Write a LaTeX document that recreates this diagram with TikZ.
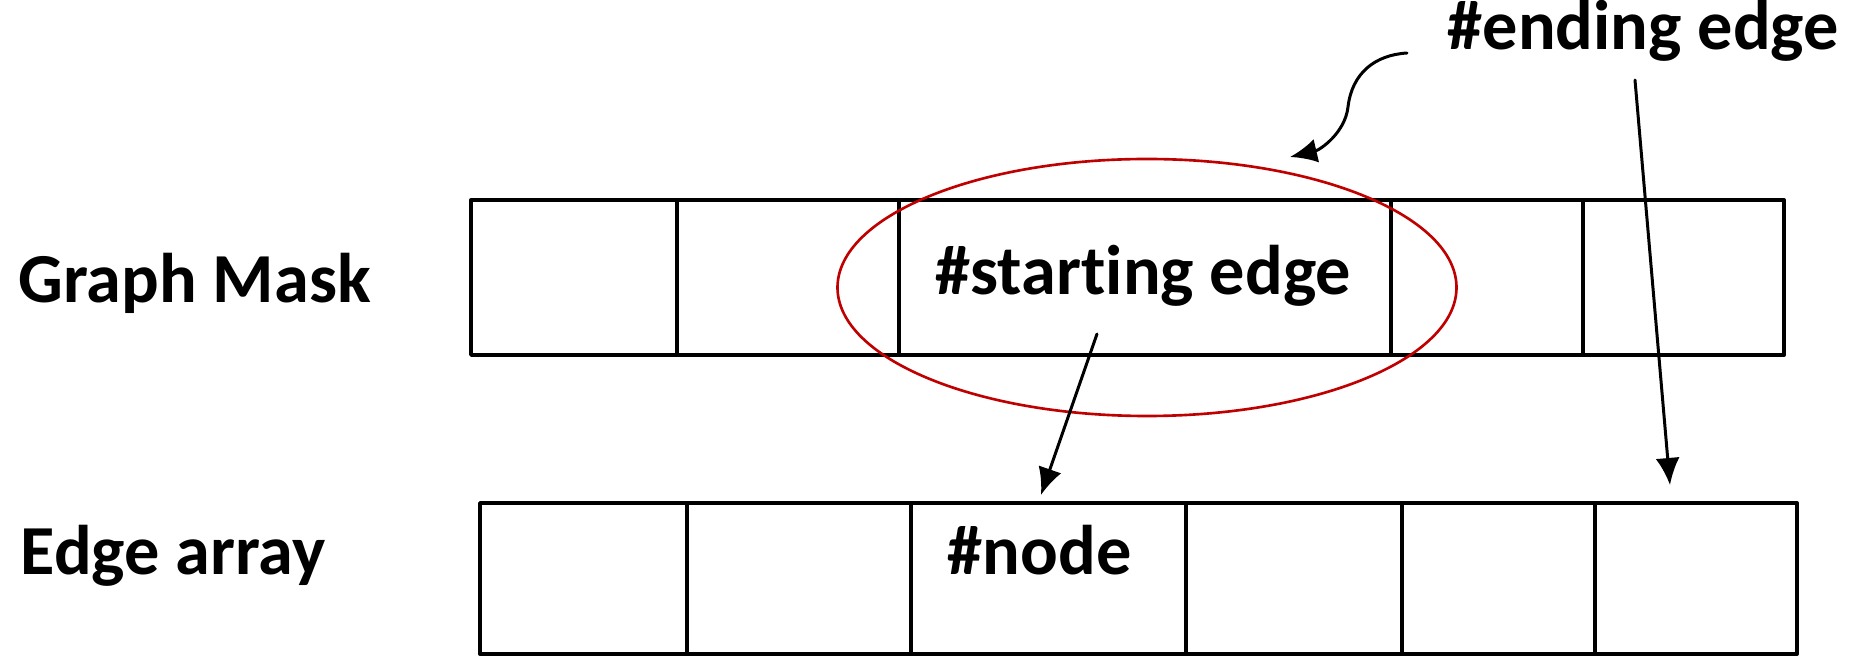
\documentclass[tikz,border=0pt]{standalone}
\usepackage{fontspec}
\setmainfont{Carlito}[Ligatures=NoCommon]
\usetikzlibrary{arrows.meta}
\definecolor{maskred}{rgb}{0.75,0.0,0.0}

\begin{document}
\begin{tikzpicture}[line cap=round,line join=round, x=1cm,y=1cm,
    arrtext/.style={anchor=base west,inner sep=0pt,font=\fontsize{20}{24}\selectfont\bfseries},
    cellline/.style={line width=1.1pt},
    ptr/.style={-{Latex[length=0.27cm,width=0.24cm]},line width=0.85pt}]
  \useasboundingbox (0,0) rectangle (18.55,6.58);
  % Graph Mask
  \draw[cellline] (4.71,3.03) rectangle (17.84,4.58);
  \foreach \x in {6.77,8.99,13.91,15.83}
    \draw[cellline] (\x,3.03) -- (\x,4.58);
  % Edge array
  \draw[cellline] (4.80,0.04) rectangle (17.97,1.55);
  \foreach \x in {6.87,9.11,11.86,14.02,15.95}
    \draw[cellline] (\x,0.04) -- (\x,1.55);
  % Texte
  \node[arrtext] (gmask) at (0.18,3.55) {Graph Mask};
  \node[arrtext] (earray) at (0.20,0.83) {Edge array};
  \node[arrtext] (start) at (9.35,3.63) {\#starting edge};
  \node[arrtext] (enode) at (9.47,0.83) {\#node};
  \node[arrtext] (ending) at (14.47,6.08) {\#ending edge};
  % Ellipse
  \draw[maskred,line width=0.75pt] (11.47,3.705) ellipse [x radius=3.095,y radius=1.285];
  % Pfeile
  \coordinate (s1) at (10.97,3.24);
  \coordinate (t1) at (10.41,1.63);
  \coordinate (s2) at (16.35,5.78);
  \coordinate (t2) at (16.70,1.73);
  \coordinate (s3) at (14.07,6.05);
  \coordinate (t3) at (12.90,5.01);
  \draw[ptr] (s1) -- (t1);
  \draw[ptr] (s2) -- (t2);
  \draw[ptr] (s3) .. controls (13.75,6.03) and (13.52,5.85) .. (13.48,5.51)
    .. controls (13.45,5.25) and (13.20,5.08) .. (t3);
\end{tikzpicture}
\end{document}
